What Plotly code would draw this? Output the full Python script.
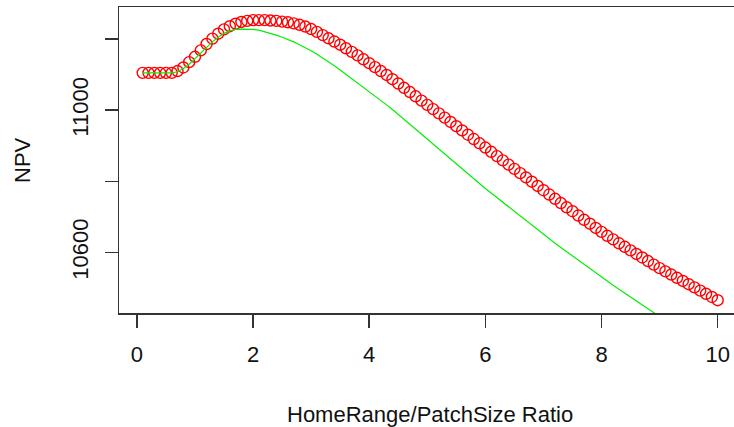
import plotly.graph_objects as go

ratio = [0.1, 0.2, 0.3, 0.4, 0.5, 0.6, 0.7, 0.8, 0.9, 1.0,
         1.1, 1.2, 1.3, 1.4, 1.5, 1.6, 1.7, 1.8, 1.9, 2.0,
         2.1, 2.2, 2.3, 2.4, 2.5, 2.6, 2.7, 2.8, 2.9, 3.0,
         3.1, 3.2, 3.3, 3.4, 3.5, 3.6, 3.7, 3.8, 3.9, 4.0,
         4.1, 4.2, 4.3, 4.4, 4.5, 4.6, 4.7, 4.8, 4.9, 5.0,
         5.1, 5.2, 5.3, 5.4, 5.5, 5.6, 5.7, 5.8, 5.9, 6.0,
         6.1, 6.2, 6.3, 6.4, 6.5, 6.6, 6.7, 6.8, 6.9, 7.0,
         7.1, 7.2, 7.3, 7.4, 7.5, 7.6, 7.7, 7.8, 7.9, 8.0,
         8.1, 8.2, 8.3, 8.4, 8.5, 8.6, 8.7, 8.8, 8.9, 9.0,
         9.1, 9.2, 9.3, 9.4, 9.5, 9.6, 9.7, 9.8, 9.9, 10.0]

npv_red = [11105, 11105, 11105, 11105, 11105, 11105, 11110, 11120, 11135, 11150,
           11168, 11186, 11201, 11215, 11227, 11236, 11243, 11248, 11251, 11253,
           11253, 11253, 11252, 11251, 11249, 11247, 11244, 11240, 11235, 11228,
           11220, 11211, 11202, 11193, 11184, 11174, 11164, 11154, 11143, 11132,
           11121, 11110, 11099, 11087, 11075, 11063, 11051, 11039, 11027, 11015,
           11003, 10991, 10979, 10967, 10955, 10943, 10931, 10919, 10907, 10895,
           10883, 10871, 10859, 10847, 10835, 10823, 10811, 10799, 10787, 10775,
           10763, 10751, 10739, 10727, 10716, 10704, 10692, 10681, 10669, 10658,
           10647, 10637, 10626, 10616, 10606, 10596, 10586, 10576, 10566, 10556,
           10547, 10538, 10529, 10520, 10511, 10502, 10493, 10484, 10475, 10466]

npv_green = [11105, 11105, 11105, 11105, 11105, 11105, 11108, 11117, 11129, 11145,
             11162, 11178, 11192, 11205, 11216, 11223, 11227, 11228, 11228, 11227,
             11225, 11221, 11216, 11211, 11205, 11199, 11192, 11184, 11176, 11167,
             11157, 11147, 11136, 11125, 11113, 11101, 11089, 11077, 11065, 11053,
             11041, 11028, 11015, 11002, 10988, 10974, 10960, 10946, 10932, 10918,
             10904, 10890, 10876, 10862, 10848, 10834, 10820, 10806, 10793, 10780,
             10767, 10754, 10741, 10728, 10715, 10702, 10689, 10676, 10663, 10650,
             10638, 10626, 10614, 10602, 10590, 10578, 10566, 10554, 10542, 10530,
             10519, 10508, 10497, 10486, 10475, 10464, 10453, 10442, 10431, 10420,
             10409, 10398, 10387, 10376, 10365, 10354, 10343, 10332, 10321, 10310]

x_ticks = [0, 2, 4, 6, 8, 10]
y_ticks = [10600, 10800, 11000, 11200]
y_tick_text = ["10600", "", "11000", ""]

FONT = "Liberation Sans, Arial, sans-serif"
AXC = "#333333"
TXT = "#111111"

fig = go.Figure()
fig.add_trace(go.Scatter(
    x=ratio, y=npv_red, mode="markers",
    marker=dict(symbol="circle-open", size=11, color="#ff0000",
                line=dict(width=1.4, color="#ff0000")),
    showlegend=False, hoverinfo="skip",
))
fig.add_trace(go.Scatter(
    x=ratio, y=npv_green, mode="lines",
    line=dict(color="#00f000", width=1.2),
    showlegend=False, hoverinfo="skip",
))

fig.update_layout(
    width=734, height=427,
    margin=dict(l=119, r=0, t=7, b=114),
    paper_bgcolor="white", plot_bgcolor="white",
    font=dict(family=FONT, size=22, color=TXT),
    xaxis=dict(
        range=[-0.308, 10.281], tickvals=x_ticks, ticktext=[str(v) for v in x_ticks],
        automargin=False,
        showgrid=False, zeroline=False,
        showline=True, mirror=True, linecolor=AXC, linewidth=1.5,
        ticks="outside", ticklen=13, tickwidth=1.5, tickcolor=AXC,
        ticklabelstandoff=8,
        tickfont=dict(family=FONT, size=22, color=TXT),
    ),
    yaxis=dict(
        range=[10430, 11290], tickvals=y_ticks, ticktext=y_tick_text,
        automargin=False,
        showgrid=False, zeroline=False,
        showline=True, mirror=False, linecolor=AXC, linewidth=1.5,
        ticks="outside", ticklen=13, tickwidth=1.5, tickcolor=AXC,
        tickangle=-90, ticklabelstandoff=8,
        tickfont=dict(family=FONT, size=22, color=TXT),
    ),
    annotations=[
        dict(text="HomeRange/PatchSize Ratio", xref="paper", yref="paper",
             x=0.5057, y=0, xanchor="center", yanchor="middle", yshift=-101,
             showarrow=False, font=dict(family=FONT, size=22, color=TXT)),
        dict(text="NPV", xref="paper", yref="paper", textangle=-90,
             x=0, y=0.5, xanchor="center", yanchor="middle", xshift=-97,
             showarrow=False, font=dict(family=FONT, size=22, color=TXT)),
    ],
)

fig.write_html(
    "out.html",
    config={"displayModeBar": False, "staticPlot": True},
    post_script="document.body.style.margin='0px';document.body.style.overflow='hidden';",
)
